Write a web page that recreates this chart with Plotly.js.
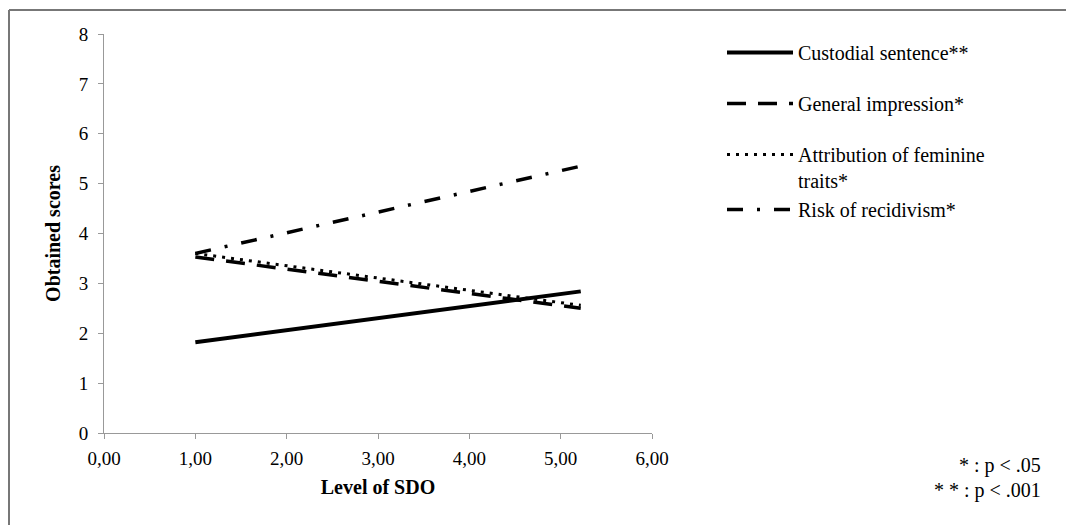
<!DOCTYPE html>
<html>
<head>
<meta charset="utf-8">
<script src="https://cdn.plot.ly/plotly-3.0.1.min.js"></script>
<style>html,body{margin:0;padding:0;background:#fff;}#chart{width:1066px;height:525px;}</style>
</head>
<body>
<div id="chart"></div>
<script>
const sdoLevels = [1.0, 5.22];
const custodialSentence = [1.82, 2.84];
const generalImpression = [3.53, 2.5];
const feminineTraits = [3.6, 2.56];
const riskOfRecidivism = [3.6, 5.35];
const seriesNames = ["Custodial sentence**", "General impression*", "Attribution of feminine<br>traits*", "Risk of recidivism*"];
const xTickVals = [0, 1, 2, 3, 4, 5, 6];
const xTickText = ["0,00", "1,00", "2,00", "3,00", "4,00", "5,00", "6,00"];
const yTickVals = [0, 1, 2, 3, 4, 5, 6, 7, 8];

const serif = "Liberation Serif";
const traces = [
  {x: sdoLevels, y: custodialSentence, name: seriesNames[0], legendgroup: "a",
   mode: "lines", line: {color: "#000", width: 4, dash: "solid"}},
  {x: sdoLevels, y: generalImpression, name: seriesNames[1], legendgroup: "b",
   mode: "lines", line: {color: "#000", width: 3.5, dash: "19px,12px"}},
  {x: sdoLevels, y: feminineTraits, name: seriesNames[2], legendgroup: "c",
   mode: "lines", line: {color: "#000", width: 3, dash: "3px,6px"}},
  {x: sdoLevels, y: riskOfRecidivism, name: seriesNames[3], legendgroup: "c",
   mode: "lines", line: {color: "#000", width: 3.5, dash: "16px,14px,3px,14px"}}
];

const L = 104, R = 652, T = 34, B = 433;
const pw = R - L, ph = B - T;
function px(x) { return (x - L) / pw; }
function py(y) { return (B - y) / ph; }

const layout = {
  width: 1066, height: 525,
  margin: {l: L, r: 1066 - R, t: T, b: 525 - B, pad: 0},
  paper_bgcolor: "#fff", plot_bgcolor: "#fff",
  font: {family: serif, size: 20, color: "#000"},
  showlegend: true,
  legend: {
    xref: "container", yref: "container",
    x: 722 / 1066, y: 1 - 33 / 525, xanchor: "left", yanchor: "top",
    traceorder: "grouped", tracegroupgap: 22, valign: "top",
    font: {family: serif, size: 20, color: "#000"},
    itemwidth: 66, bgcolor: "rgba(0,0,0,0)"
  },
  xaxis: {
    range: [0, 6], tickvals: xTickVals, ticktext: xTickText,
    showgrid: false, zeroline: false, showline: true, linecolor: "#999", linewidth: 1,
    ticks: "outside", ticklen: 5, tickcolor: "#999", ticklabelstandoff: 3,
    tickfont: {family: serif, size: 19, color: "#000"},
    title: {text: "<b>Level of SDO</b>", font: {family: serif, size: 20, color: "#000"}, standoff: 12}
  },
  yaxis: {
    range: [0, 8], tickvals: yTickVals,
    showgrid: false, zeroline: false, showline: true, linecolor: "#999", linewidth: 1,
    ticks: "outside", ticklen: 5, tickcolor: "#999", ticklabelstandoff: 6,
    tickfont: {family: serif, size: 19, color: "#000"},
    title: {text: "<b>Obtained scores</b>", font: {family: serif, size: 20, color: "#000"}, standoff: 12}
  },
  shapes: [
    {type: "line", xref: "paper", yref: "paper", x0: px(9), x1: px(1066), y0: py(10), y1: py(10),
     line: {color: "#777", width: 2}},
    {type: "line", xref: "paper", yref: "paper", x0: px(9), x1: px(9), y0: py(10), y1: py(525),
     line: {color: "#777", width: 2}}
  ],
  annotations: [
    {xref: "paper", yref: "paper", x: px(1043), y: py(465), xanchor: "right", yanchor: "middle",
     text: "* : p < .05", showarrow: false, font: {family: serif, size: 20, color: "#000"}},
    {xref: "paper", yref: "paper", x: px(1043), y: py(491), xanchor: "right", yanchor: "middle",
     text: "* * : p < .001", showarrow: false, font: {family: serif, size: 20, color: "#000"}}
  ]
};

Plotly.newPlot("chart", traces, layout, {displayModeBar: false, staticPlot: true});
</script>
</body>
</html>
